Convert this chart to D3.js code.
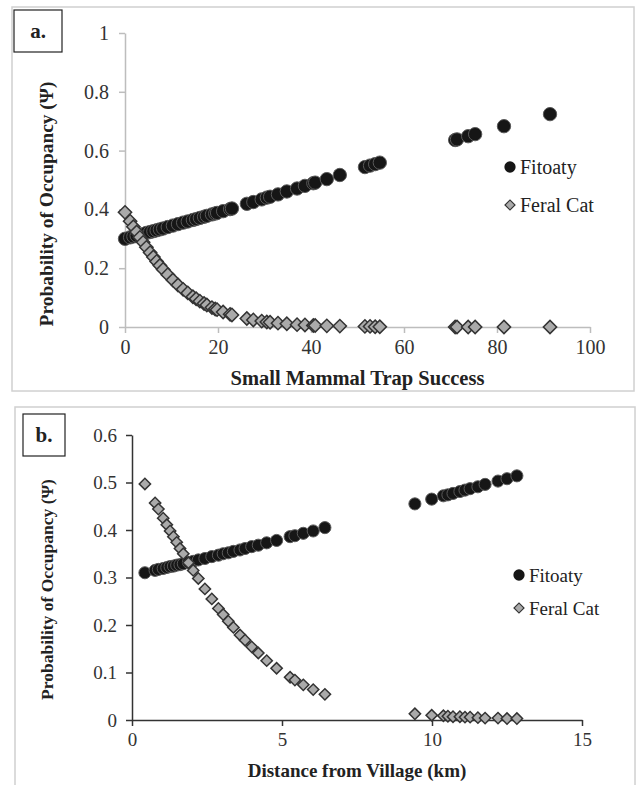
<!DOCTYPE html>
<html>
<head>
<meta charset="utf-8">
<script src="https://cdn.jsdelivr.net/npm/d3@7"></script>
<style>
  body { margin: 0; background: #fff; }
</style>
</head>
<body>
<div id="chart"></div>
<script>
// panel a: small mammal trap success vs occupancy
const trapSuccess = [0, 1.1, 1.8, 2.5, 3.2, 3.9, 4.6, 5.4, 6.1, 6.8, 7.5, 8.2, 9.2, 10.3, 11.4, 12.5,
  13.5, 14.6, 15.3, 16.1, 17.0, 17.6, 18.7, 19.4, 19.8, 21.1, 22.6, 23.0, 26.2, 27.6, 29.4, 30.5,
  31.2, 32.9, 34.8, 37.0, 38.7, 40.5, 40.9, 43.4, 46.2, 51.6, 52.7, 53.8, 54.8, 71.0, 71.4, 73.8,
  75.3, 81.5, 91.4];
const fitoatyByTrap = [0.300, 0.305, 0.308, 0.311, 0.313, 0.316, 0.320, 0.323, 0.326, 0.329, 0.332,
  0.335, 0.340, 0.345, 0.350, 0.355, 0.359, 0.364, 0.367, 0.371, 0.375, 0.378, 0.383, 0.386, 0.388,
  0.394, 0.401, 0.403, 0.419, 0.425, 0.434, 0.440, 0.443, 0.451, 0.461, 0.471, 0.480, 0.489, 0.491,
  0.503, 0.517, 0.544, 0.549, 0.554, 0.559, 0.636, 0.638, 0.649, 0.656, 0.683, 0.724];
const catByTrap = [0.390, 0.360, 0.341, 0.323, 0.305, 0.288, 0.271, 0.253, 0.238, 0.223, 0.209,
  0.196, 0.178, 0.160, 0.143, 0.128, 0.116, 0.103, 0.096, 0.088, 0.080, 0.075, 0.066, 0.061, 0.059,
  0.051, 0.043, 0.041, 0.029, 0.024, 0.020, 0.017, 0.016, 0.013, 0.011, 0.008, 0.007, 0.005, 0.005,
  0.004, 0.003, 0.002, 0.002, 0.001, 0.001, 0, 0, 0, 0, 0, 0];
const trapTicks = [0, 20, 40, 60, 80, 100];
const occTicksA = [0, 0.2, 0.4, 0.6, 0.8, 1];

// panel b: distance from village vs occupancy
const distanceKm = [0.43, 0.77, 0.88, 1.04, 1.16, 1.27, 1.38, 1.49, 1.6, 1.71, 1.88, 2.04, 2.21,
  2.43, 2.66, 2.88, 3.04, 3.21, 3.38, 3.6, 3.77, 3.99, 4.21, 4.49, 4.82, 5.27, 5.43, 5.71, 6.04,
  6.43, 9.43, 9.99, 10.38, 10.53, 10.7, 10.93, 11.1, 11.27, 11.53, 11.77, 12.2, 12.5, 12.83];
const fitoatyByDist = [0.310, 0.315, 0.317, 0.319, 0.321, 0.323, 0.324, 0.326, 0.327, 0.329, 0.332,
  0.334, 0.337, 0.340, 0.344, 0.347, 0.350, 0.352, 0.355, 0.358, 0.361, 0.365, 0.368, 0.373, 0.378,
  0.386, 0.388, 0.393, 0.398, 0.405, 0.455, 0.465, 0.472, 0.474, 0.477, 0.481, 0.484, 0.487, 0.491,
  0.496, 0.503, 0.508, 0.514];
const catByDist = [0.497, 0.457, 0.444, 0.425, 0.411, 0.398, 0.386, 0.374, 0.361, 0.350, 0.331,
  0.315, 0.298, 0.276, 0.255, 0.235, 0.222, 0.208, 0.195, 0.179, 0.168, 0.154, 0.141, 0.125, 0.109,
  0.090, 0.084, 0.074, 0.064, 0.054, 0.013, 0.010, 0.009, 0.008, 0.007, 0.007, 0.006, 0.006, 0.005,
  0.004, 0.004, 0.003, 0.003];
const distTicks = [0, 5, 10, 15];
const occTicksB = [0, 0.1, 0.2, 0.3, 0.4, 0.5, 0.6];

const seriesNames = ["Fitoaty", "Feral Cat"];

const serif = "'Liberation Serif', 'Times New Roman', Times, 'DejaVu Serif', serif";
const width = 639, height = 785;
const svg = d3.select("#chart").append("svg")
  .attr("width", width)
  .attr("height", height)
  .style("font-family", serif);

function drawPanel(p) {
  const g = svg.append("g");

  // frame + letter box
  g.append("rect")
    .attr("x", p.frame[0]).attr("y", p.frame[1])
    .attr("width", p.frame[2]).attr("height", p.frame[3])
    .attr("fill", "none").attr("stroke", "#d0d0d0").attr("stroke-width", 1.5);
  g.append("rect")
    .attr("x", p.labelBox[0]).attr("y", p.labelBox[1])
    .attr("width", p.labelBox[2]).attr("height", p.labelBox[3])
    .attr("fill", "#fff").attr("stroke", "#222").attr("stroke-width", 1.2);
  g.append("text")
    .attr("x", p.labelBox[0] + p.labelBox[2] / 2)
    .attr("y", p.labelBox[1] + p.labelBox[3] / 2 + 7)
    .attr("text-anchor", "middle")
    .style("font-family", serif)
    .attr("font-weight", "bold")
    .attr("font-size", 21)
    .attr("fill", "#222")
    .text(p.letter);

  const x = d3.scaleLinear().domain(p.xDomain).range([p.left, p.right]);
  const y = d3.scaleLinear().domain(p.yDomain).range([p.bottom, p.top]);

  const xAxis = g.append("g")
    .attr("transform", `translate(0,${p.bottom})`)
    .call(d3.axisBottom(x).tickValues(p.xTicks).tickSize(6).tickSizeOuter(0)
      .tickPadding(p.xPad).tickFormat((d) => String(d)));
  const yAxis = g.append("g")
    .attr("transform", `translate(${p.left},0)`)
    .call(d3.axisLeft(y).tickValues(p.yTicks).tickSize(6).tickSizeOuter(0)
      .tickPadding(p.yPad).tickFormat((d) => String(d)));

  [xAxis, yAxis].forEach((a) => {
    a.attr("font-family", null);
    a.select(".domain").attr("stroke", p.axisColor).attr("stroke-width", 1.5);
    a.selectAll(".tick line").attr("stroke", p.axisColor).attr("stroke-width", 1.5);
    a.selectAll(".tick text")
      .style("font-family", serif)
      .attr("font-size", p.tickFont)
      .attr("fill", "#333");
  });

  g.append("text")
    .attr("x", (p.left + p.right) / 2)
    .attr("y", p.xTitleY)
    .attr("text-anchor", "middle")
    .style("font-family", serif)
    .attr("font-weight", "bold")
    .attr("font-size", p.xTitleFont)
    .attr("fill", "#222")
    .text(p.xTitle);
  g.append("text")
    .attr("transform", `translate(${p.yTitleX},${(p.top + p.bottom) / 2 + p.yTitleShift}) rotate(-90)`)
    .attr("text-anchor", "middle")
    .style("font-family", serif)
    .attr("font-weight", "bold")
    .attr("font-size", p.yTitleFont)
    .attr("fill", "#222")
    .text("Probability of Occupancy (\u03A8)");

  const circle = d3.symbol(d3.symbolCircle, p.circleArea);
  const diamond = d3.symbol(d3.symbolSquare, p.diamondArea);

  g.append("g")
    .selectAll("path")
    .data(p.xs.map((v, i) => [v, p.fit[i]]))
    .join("path")
    .attr("d", circle)
    .attr("transform", (d) => `translate(${x(d[0])},${y(d[1])})`)
    .attr("fill", "#161616")
    .attr("stroke", "#5a5a5a")
    .attr("stroke-width", 1);

  g.append("g")
    .selectAll("path")
    .data(p.xs.map((v, i) => [v, p.cat[i]]))
    .join("path")
    .attr("d", diamond)
    .attr("transform", (d) => `translate(${x(d[0])},${y(d[1])}) rotate(45)`)
    .attr("fill", "#aaaaaa")
    .attr("stroke", "#333")
    .attr("stroke-width", 1.5);

  // legend
  const lg = g.append("g").attr("transform", `translate(${p.legend[0]},${p.legend[1]})`);
  lg.append("path")
    .attr("d", d3.symbol(d3.symbolCircle, 100)())
    .attr("fill", "#161616");
  lg.append("path")
    .attr("d", d3.symbol(d3.symbolSquare, 50)())
    .attr("transform", `translate(0,${p.legendGap}) rotate(45)`)
    .attr("fill", "#aaaaaa").attr("stroke", "#333").attr("stroke-width", 1.2);
  lg.selectAll("text.leg")
    .data(seriesNames)
    .join("text")
    .attr("class", "leg")
    .attr("x", 10)
    .attr("y", (d, i) => i * p.legendGap + 7)
    .style("font-family", serif)
    .attr("font-size", p.legendFont)
    .attr("fill", "#222")
    .text((d) => d);
}

drawPanel({
  letter: "a.", frame: [12, 7, 622, 384], labelBox: [14, 10, 48, 42],
  left: 125, right: 590, top: 33, bottom: 327,
  xDomain: [0, 100], yDomain: [0, 1], xTicks: trapTicks, yTicks: occTicksA,
  xs: trapSuccess, fit: fitoatyByTrap, cat: catByTrap,
  axisColor: "#bdbdbd", tickFont: 20, xTitleFont: 20.5, yTitleFont: 19.4, legendFont: 20,
  xPad: 7, yPad: 10, xTitle: "Small Mammal Trap Success", xTitleY: 385,
  yTitleX: 53, yTitleShift: 24,
  circleArea: 140, diamondArea: 88, legend: [510, 167], legendGap: 38
});

drawPanel({
  letter: "b.", frame: [15, 407, 620, 390], labelBox: [23, 414, 42, 42],
  left: 132, right: 582, top: 435, bottom: 720,
  xDomain: [0, 15], yDomain: [0, 0.6], xTicks: distTicks, yTicks: occTicksB,
  xs: distanceKm, fit: fitoatyByDist, cat: catByDist,
  axisColor: "#333", tickFont: 19, xTitleFont: 19, yTitleFont: 17.5, legendFont: 19,
  xPad: 7, yPad: 9, xTitle: "Distance from Village (km)", xTitleY: 777,
  yTitleX: 53, yTitleShift: 12,
  circleArea: 115, diamondArea: 64, legend: [519, 575], legendGap: 33
});
</script>
</body>
</html>
